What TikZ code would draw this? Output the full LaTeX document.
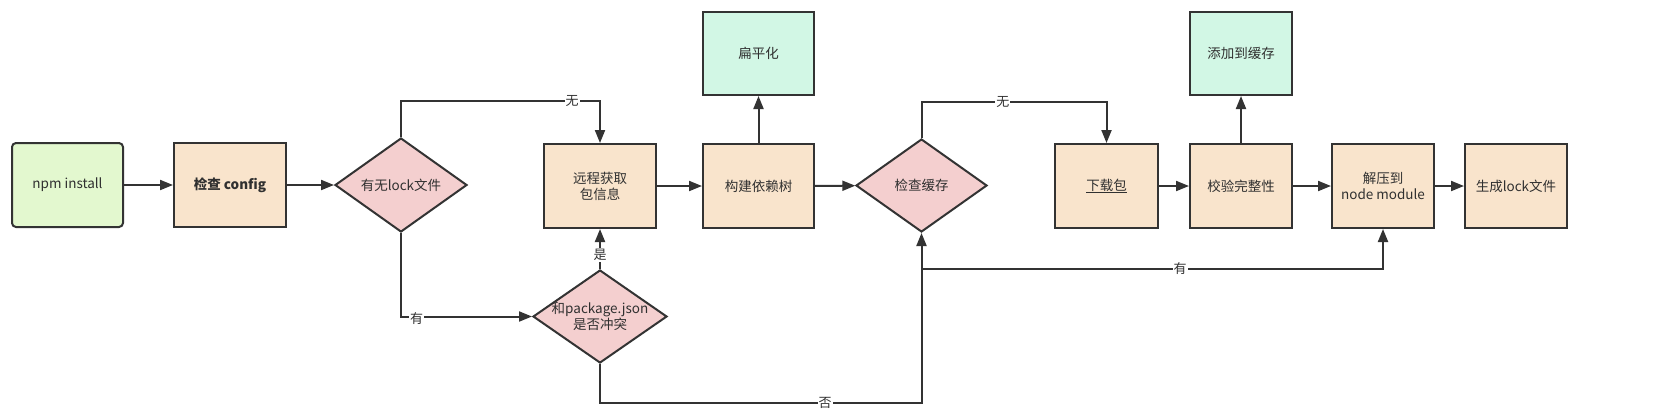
\documentclass[tikz,border=0pt]{standalone}
\usepackage{fontspec}
\setmainfont{Noto Sans CJK SC}
\usetikzlibrary{arrows.meta,shapes.geometric,calc}
\definecolor{peach}{HTML}{F9E4CC}
\definecolor{pinkd}{HTML}{F4CFCF}
\definecolor{mint}{HTML}{D2F7E5}
\definecolor{lgreen}{HTML}{E3F8CF}
\definecolor{edge}{HTML}{333333}
\definecolor{txt}{HTML}{303030}
\tikzset{
  base/.style={draw=edge,line width=2pt,text=txt,font=\fontsize{13.5}{16}\selectfont,align=center,inner sep=0pt},
  boxp/.style={base,rectangle,fill=peach,minimum width=#1,minimum height=84pt},
  boxm/.style={base,rectangle,fill=mint,minimum width=#1,minimum height=83pt},
  startbox/.style={base,rectangle,rounded corners=4pt,fill=lgreen,minimum width=111pt,minimum height=84pt},
  decide/.style={base,diamond,fill=pinkd,aspect=1.4},
  conn/.style={draw=edge,line width=2pt,-{Triangle[length=13pt,width=10pt]}},
  elab/.style={fill=white,text=txt,font=\fontsize{13}{14}\selectfont,inner sep=1pt}
}
\begin{document}
\begin{tikzpicture}[x=1pt,y=-1pt]
\useasboundingbox[fill=white] (0,0) rectangle (1659,416);
\node[startbox] (npm) at (67.5,185) {npm install};
\node[boxp=112pt] (cfg) at (230,185) {\textbf{检查 config}};
\node[decide,minimum width=132pt,minimum height=94pt,label={[text=txt,font=\fontsize{13.5}{16}\selectfont]center:有无lock文件}] (d1) at (401,185) {};
\node[boxp=112pt] (remote) at (600,186) {远程获取\\包信息};
\node[boxp=111pt] (build) at (758.5,186) {构建依赖树};
\node[boxm=111pt] (flat) at (758.5,53.5) {扁平化};
\node[decide,minimum width=131pt,minimum height=93pt,label={[text=txt,font=\fontsize{13.5}{16}\selectfont]center:检查缓存}] (d2) at (921.5,185.5) {};
\node[decide,minimum width=134pt,minimum height=93pt,label={[text=txt,align=center,font=\fontsize{13.5}{16}\selectfont]center:和package.json\\是否冲突}] (d3) at (600,316.5) {};
\node[boxp=103pt] (down) at (1106.5,186) {\underline{下载包}};
\node[boxp=102pt] (verify) at (1241,186) {校验完整性};
\node[boxm=102pt] (addc) at (1241,53.5) {添加到缓存};
\node[boxp=102pt] (unzip) at (1383,186) {解压到\\node module};
\node[boxp=102pt] (gen) at (1516,186) {生成lock文件};
\coordinate (j1) at (922,269);

\draw[conn] (npm) -- (cfg);
\draw[conn] (cfg) -- (d1);
\draw[conn] (d1.north) -- ++(0,-36) -| node[elab,pos=0.43]{无} (remote.north);
\draw[conn] (d1.south) |- node[elab,pos=0.56,yshift=-2pt]{有} (d3.west);
\draw[conn] (d3.north) -- node[elab,pos=0.35]{是} (remote.south);
\draw[conn] (remote) -- (build);
\draw[conn] (build) -- (flat);
\draw[conn] (build) -- (d2);
\draw[conn] (d2.north) -- ++(0,-36) -| node[elab,pos=0.22]{无} (down.north);
\draw[conn] (down) -- (verify);
\draw[conn] (verify) -- (addc);
\draw[conn] (verify) -- (unzip);
\draw[conn] (unzip) -- (gen);
\draw[conn] (d3.south) -- ++(0,39) -| node[elab,pos=0.35]{否} (d2.south);
\draw[conn] (j1) -| node[elab,pos=0.28]{有} (unzip.south);
\end{tikzpicture}
\end{document}
